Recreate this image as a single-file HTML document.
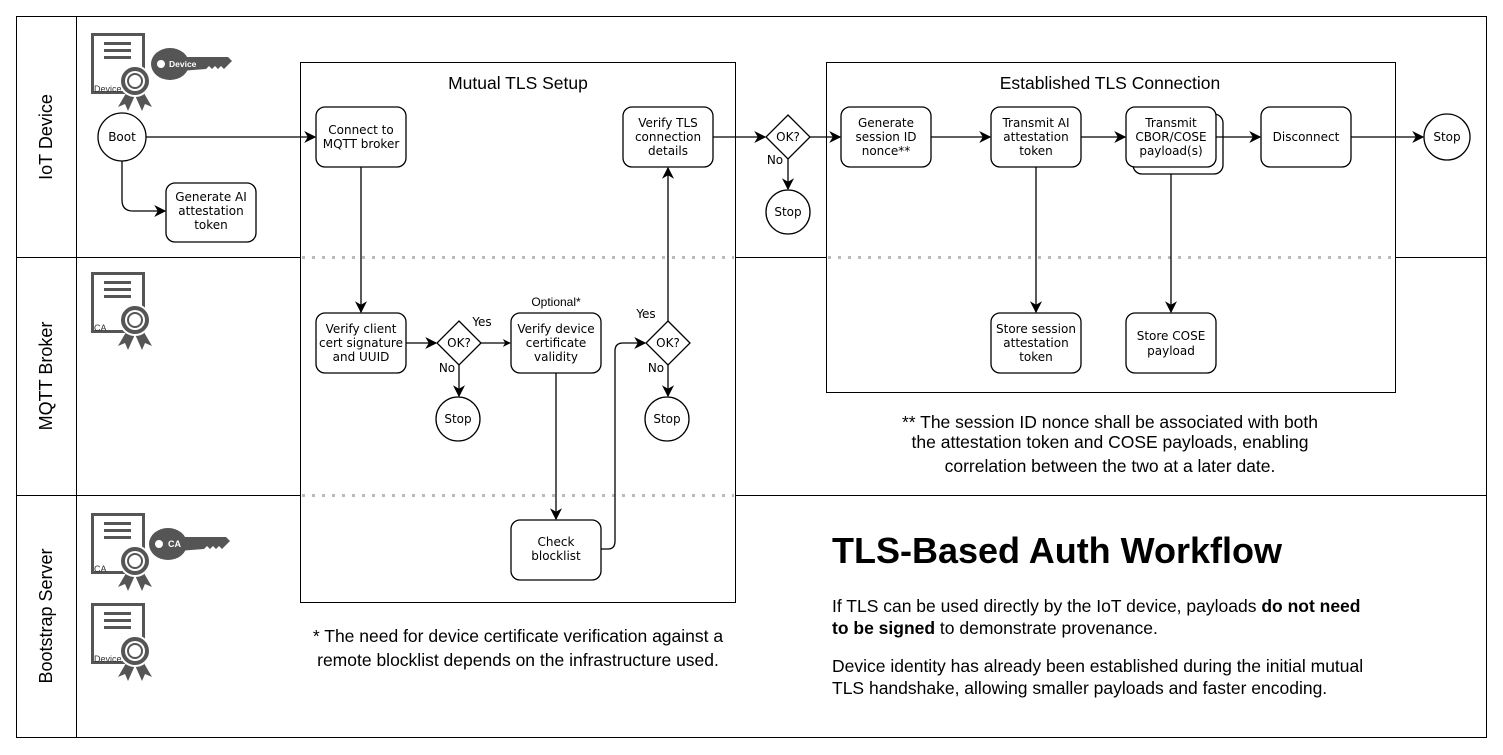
<!DOCTYPE html>
<html><head><meta charset="utf-8"><style>
html,body{margin:0;padding:0;background:#fff}
svg{display:block}
.n{font-family:"DejaVu Sans",sans-serif;font-size:12px;fill:#000;text-anchor:middle}
.h{font-family:"Liberation Sans",sans-serif;fill:#000}
</style></head><body>
<svg width="1503" height="755" viewBox="0 0 1503 755" xmlns="http://www.w3.org/2000/svg">
<defs>
<marker id="a" viewBox="0 0 10 10" refX="9" refY="5" markerWidth="8" markerHeight="8" orient="auto" markerUnits="userSpaceOnUse"><path d="M0,0 L10,5 L0,10 L3,5 z" fill="#000"/></marker>
<marker id="b" viewBox="0 0 10 10" refX="9" refY="5" markerWidth="12" markerHeight="12" orient="auto" markerUnits="userSpaceOnUse"><path d="M0,0 L10,5 L0,10 L3,5 z" fill="#000"/></marker>
<g id="cert">
<rect x="1.5" y="1.5" width="51" height="58" fill="#fff" stroke="#555" stroke-width="3"/>
<rect x="13" y="9" width="27" height="3" fill="#555"/><rect x="13" y="16" width="27" height="3" fill="#555"/><rect x="13" y="23" width="27" height="3" fill="#555"/>
<path d="M38,55 L27,74 L34,71 L37,78 L45,60 Z M50,55 L61,74 L54,71 L51,78 L43,60 Z" fill="#555"/>
<circle cx="44" cy="48" r="15" fill="#555" stroke="#fff" stroke-width="2"/>
<circle cx="44" cy="48" r="10" fill="#fff"/><circle cx="44" cy="48" r="8" fill="#555"/><circle cx="44" cy="48" r="6" fill="#fff"/>
</g>
<g id="key">
<ellipse cx="0" cy="0" rx="19" ry="16" fill="#555"/>
<path d="M10,-7 L58,-7 L62,-3 L58,1 L54,5 L51,2 L48,5 L45,2 L42,5 L39,2 L36,5 L10,7 Z" fill="#555"/>
<circle cx="-9" cy="0" r="4" fill="#fff"/>
</g>
</defs>

<rect x="16.5" y="16.5" width="1470" height="721" fill="none" stroke="#000" stroke-width="1"/>
<line x1="76.5" y1="16" x2="76.5" y2="738" stroke="#000"/>
<g stroke="#000">
<line x1="16" y1="257.5" x2="300" y2="257.5"/><line x1="736" y1="257.5" x2="826" y2="257.5"/><line x1="1395" y1="257.5" x2="1487" y2="257.5"/>
<line x1="16" y1="495.5" x2="300" y2="495.5"/><line x1="736" y1="495.5" x2="1487" y2="495.5"/>
</g>
<g stroke="#bbb" stroke-width="3" stroke-dasharray="3,7">
<line x1="302" y1="257.5" x2="734" y2="257.5"/><line x1="828" y1="257.5" x2="1393" y2="257.5"/>
<line x1="302" y1="495.5" x2="734" y2="495.5"/>
</g>
<text class="h" font-size="18" text-anchor="middle" transform="translate(52,137) rotate(-90)">IoT Device</text>
<text class="h" font-size="18" text-anchor="middle" transform="translate(52,376) rotate(-90)">MQTT Broker</text>
<text class="h" font-size="18" text-anchor="middle" transform="translate(52,616) rotate(-90)">Bootstrap Server</text>

<use href="#cert" x="91" y="33"/>
<text x="94" y="92" font-family="Liberation Sans,sans-serif" font-size="9" fill="#333">Device</text>
<use href="#key" x="170" y="64"/>
<text x="169" y="67" font-family="Liberation Sans,sans-serif" font-size="8.5" font-weight="bold" fill="#fff">Device</text>
<use href="#cert" x="91" y="272"/>
<text x="94" y="331" font-family="Liberation Sans,sans-serif" font-size="9" fill="#333">CA</text>
<use href="#cert" x="91" y="513"/>
<text x="94" y="572" font-family="Liberation Sans,sans-serif" font-size="9" fill="#333">CA</text>
<use href="#key" x="168" y="544"/>
<text x="168" y="547" font-family="Liberation Sans,sans-serif" font-size="9" font-weight="bold" fill="#fff">CA</text>
<use href="#cert" x="91" y="603"/>
<text x="94" y="662" font-family="Liberation Sans,sans-serif" font-size="9" fill="#333">Device</text>

<rect x="300.5" y="62.5" width="435" height="540" fill="none" stroke="#000"/>
<text class="h" x="518" y="89" font-size="17.5" text-anchor="middle">Mutual TLS Setup</text>
<rect x="826.5" y="62.5" width="569" height="330" fill="none" stroke="#000"/>
<text class="h" x="1110" y="89" font-size="17.5" text-anchor="middle">Established TLS Connection</text>

<g fill="#fff" stroke="#000" stroke-width="1.3">
<circle cx="122" cy="137" r="24"/>
<rect x="166" y="183" width="90" height="59" rx="9"/>
<rect x="316" y="107" width="90" height="60" rx="9"/>
<rect x="316" y="313" width="90" height="60" rx="9"/>
<path d="M459,321 L481,343 L459,365 L437,343 Z"/>
<circle cx="458" cy="419" r="22"/>
<rect x="511" y="313" width="90" height="60" rx="9"/>
<rect x="511" y="520" width="90" height="60" rx="9"/>
<path d="M668,321 L690,343 L668,365 L646,343 Z"/>
<circle cx="667" cy="419" r="22"/>
<rect x="623" y="107" width="90" height="60" rx="9"/>
<path d="M788,115 L810,137 L788,159 L766,137 Z"/>
<circle cx="788" cy="212" r="22"/>
<rect x="841" y="107" width="90" height="60" rx="9"/>
<rect x="991" y="107" width="90" height="60" rx="9"/>
<rect x="1133" y="114" width="90" height="60" rx="9"/>
<rect x="1126" y="107" width="90" height="60" rx="9"/>
<rect x="1261" y="107" width="90" height="60" rx="9"/>
<circle cx="1447" cy="137" r="23"/>
<rect x="991" y="313" width="90" height="60" rx="9"/>
<rect x="1126" y="313" width="90" height="60" rx="9"/>
</g>

<g fill="none" stroke="#000" stroke-width="1.3">
<path d="M146,137 H315" marker-end="url(#b)"/>
<path d="M122,161 V200 Q122,211 133,211 H165" marker-end="url(#b)"/>
<path d="M361,167 V312" marker-end="url(#b)"/>
<path d="M406,343 H436" marker-end="url(#b)"/>
<path d="M481,343 H510" marker-end="url(#a)"/>
<path d="M459,365 V396" marker-end="url(#b)"/>
<path d="M556,373 V519" marker-end="url(#b)"/>
<path d="M601,549 H608 Q615,549 615,541 V351 Q615,343 623,343 H645" marker-end="url(#b)"/>
<path d="M668,365 V396" marker-end="url(#b)"/>
<path d="M668,321 V168" marker-end="url(#b)"/>
<path d="M713,137 H765" marker-end="url(#b)"/>
<path d="M788,159 V189" marker-end="url(#b)"/>
<path d="M810,137 H840" marker-end="url(#b)"/>
<path d="M931,137 H990" marker-end="url(#b)"/>
<path d="M1081,137 H1125" marker-end="url(#b)"/>
<path d="M1216,137 H1260" marker-end="url(#b)"/>
<path d="M1351,137 H1423" marker-end="url(#b)"/>
<path d="M1036,167 V312" marker-end="url(#b)"/>
<path d="M1171,174 V312" marker-end="url(#b)"/>
</g>

<text class="n" x="122" y="141">Boot</text>
<text class="n" x="211" y="201">Generate AI</text><text class="n" x="211" y="215">attestation</text><text class="n" x="211" y="229">token</text>
<text class="n" x="361" y="134">Connect to</text><text class="n" x="361" y="148">MQTT broker</text>
<text class="n" x="361" y="333">Verify client</text><text class="n" x="361" y="347">cert signature</text><text class="n" x="361" y="361">and UUID</text>
<text class="n" x="459" y="347">OK?</text>
<text class="n" x="482" y="326">Yes</text><text class="n" x="447" y="372">No</text>
<text class="n" x="458" y="423">Stop</text>
<text class="h" x="556" y="306" font-size="12" text-anchor="middle">Optional*</text>
<text class="n" x="556" y="333">Verify device</text><text class="n" x="556" y="347">certificate</text><text class="n" x="556" y="361">validity</text>
<text class="n" x="556" y="546">Check</text><text class="n" x="556" y="560">blocklist</text>
<text class="n" x="668" y="347">OK?</text>
<text class="n" x="646" y="318">Yes</text><text class="n" x="656" y="372">No</text>
<text class="n" x="667" y="423">Stop</text>
<text class="n" x="668" y="127">Verify TLS</text><text class="n" x="668" y="141">connection</text><text class="n" x="668" y="155">details</text>
<text class="n" x="788" y="141">OK?</text>
<text class="n" x="775" y="164">No</text>
<text class="n" x="788" y="216">Stop</text>
<text class="n" x="886" y="127">Generate</text><text class="n" x="886" y="141">session ID</text><text class="n" x="886" y="155">nonce**</text>
<text class="n" x="1036" y="127">Transmit AI</text><text class="n" x="1036" y="141">attestation</text><text class="n" x="1036" y="155">token</text>
<text class="n" x="1171" y="127">Transmit</text><text class="n" x="1171" y="141">CBOR/COSE</text><text class="n" x="1171" y="155">payload(s)</text>
<text class="n" x="1306" y="141">Disconnect</text>
<text class="n" x="1447" y="141">Stop</text>
<text class="n" x="1036" y="333">Store session</text><text class="n" x="1036" y="347">attestation</text><text class="n" x="1036" y="361">token</text>
<text class="n" x="1171" y="340">Store COSE</text><text class="n" x="1171" y="355">payload</text>

<text class="h" font-size="17.5" text-anchor="middle" x="518" y="642">* The need for device certificate verification against a</text>
<text class="h" font-size="17.5" text-anchor="middle" x="518" y="666">remote blocklist depends on the infrastructure used.</text>
<text class="h" font-size="17.5" text-anchor="middle" x="1110" y="428">** The session ID nonce shall be associated with both</text>
<text class="h" font-size="17.5" text-anchor="middle" x="1110" y="448">the attestation token and COSE payloads, enabling</text>
<text class="h" font-size="17.5" text-anchor="middle" x="1110" y="472">correlation between the two at a later date.</text>
<text class="h" font-size="36" font-weight="bold" x="832" y="563">TLS-Based Auth Workflow</text>
<text class="h" font-size="17.5" x="832" y="612">If TLS can be used directly by the IoT device, payloads <tspan font-weight="bold">do not need</tspan></text>
<text class="h" font-size="17.5" x="832" y="634"><tspan font-weight="bold">to be signed</tspan> to demonstrate provenance.</text>
<text class="h" font-size="17.5" x="832" y="672">Device identity has already been established during the initial mutual</text>
<text class="h" font-size="17.5" x="832" y="694">TLS handshake, allowing smaller payloads and faster encoding.</text>
</svg>
</body></html>
